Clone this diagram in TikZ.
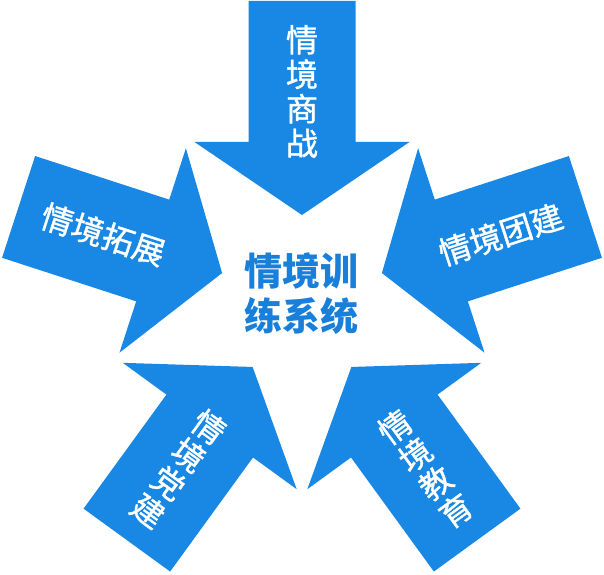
\documentclass[tikz,border=0pt]{standalone}
\usepackage{fontspec}
\newfontfamily\cjk{Noto Sans CJK SC}
\newfontfamily\cjkm[FakeBold=1.2]{Noto Sans CJK SC}
\definecolor{arrowblue}{RGB}{25,136,228}
\definecolor{textblue}{RGB}{24,128,218}
\begin{document}
\begin{tikzpicture}[x=1pt,y=1pt,
  bigarrow/.style={fill=arrowblue, draw=none},
  lbl/.style={text=white, font=\cjkm\fontsize{32}{34.5}\selectfont, align=center, inner sep=0pt},
  centerlbl/.style={text=textblue, font=\cjk\bfseries\fontsize{38}{45}\selectfont, align=center, inner sep=0pt}]
\useasboundingbox (0,0) rectangle (604,574);
\coordinate (C) at (302,275);
\foreach \a in {90,162,234,306,18}{
  \path[bigarrow, shift={(C)}, rotate=\a-90]
    (-53.5,298) -- (-53.5,157) -- (-107.5,157) -- (0,84) -- (107.5,157) -- (53.5,157) -- (53.5,298) -- cycle;
}
\node[lbl] (shangzhan) at ([shift={(90:207.5)}]C) {情\\境\\商\\战};
\node[lbl, rotate=-18] (tuozhan) at ([shift={(162:209)}]C) {情境拓展};
\node[lbl, rotate=18] (tuanjian) at ([shift={(18:209)}]C) {情境团建};
\node[lbl, rotate=36] (jiaoyu) at ([shift={(306:210)}]C) {情\\境\\教\\育};
\node[lbl, rotate=-36] (dangjian) at ([shift={(234:210)}]C) {情\\境\\党\\建};
\node[centerlbl] (center) at (301.5,280.5) {情境训\\练系统};
\end{tikzpicture}
\end{document}
